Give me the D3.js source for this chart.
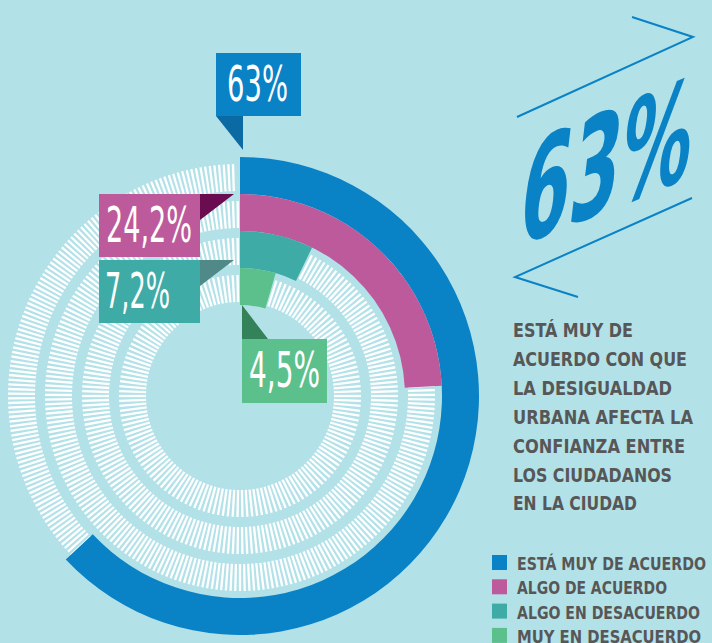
<!DOCTYPE html>
<html>
<head>
<meta charset="utf-8">
<script src="https://cdn.jsdelivr.net/npm/d3@7"></script>
<style>
  html, body { margin: 0; padding: 0; background: #b3e1e8; }
  svg { display: block; }
</style>
</head>
<body>
<svg id="svg_canvas" width="712" height="643"></svg>
<script>
// chart values
var categories = ["ESTÁ MUY DE ACUERDO", "ALGO DE ACUERDO", "ALGO EN DESACUERDO", "MUY EN DESACUERDO"];
var values = [63, 24.2, 7.2, 4.5];
var valueLabels = ["63%", "24,2%", "7,2%", "4,5%"];
var colors = ["#0a82c6", "#bc5a9c", "#3eaba7", "#5cc08c"];
var darkColors = ["#0b6aa4", "#6b0b50", "#4f8a88", "#338259"];
var headline = "63%";
var textLines = ["ESTÁ MUY DE", "ACUERDO CON QUE", "LA DESIGUALDAD", "URBANA AFECTA LA", "CONFIANZA ENTRE", "LOS CIUDADANOS", "EN LA CIUDAD"];

var width = 712, height = 643;
var cx = 240, cy = 396;
var condensed = "'Liberation Sans Narrow', 'DejaVu Sans Condensed', 'Open Sans', sans-serif";
var textGrey = "#575757";

var svg = d3.select("#svg_canvas");

svg.append("rect")
	.attr("width", width)
	.attr("height", height)
	.attr("fill", "#b3e1e8");

// radial band for each ring, angle scale for the percentages
var ring = d3.scaleBand().domain(categories).range([239, 91]);
var angle = d3.scaleLinear().domain([0, 100]).range([0, 2 * Math.PI]);

var chart = svg.append("g").attr("transform", "translate(" + cx + "," + cy + ")");

// hatched background tracks
categories.forEach(function(c){
	var r0 = ring(c) + 3;
	var r1 = ring(c) + 30;
	var mid = (r0 + r1) / 2;
	var n = Math.round(2 * Math.PI * mid / 4.4);
	var ticks = d3.range(n).map(function(i){ return (i + 0.5) / n * 2 * Math.PI; })
		.filter(function(a){ return a < 2 * Math.PI - 0.012; });
	chart.append("g").selectAll("line")
		.data(ticks)
		.enter().append("line")
		.attr("x1", function(a){ return r0 * Math.sin(a); })
		.attr("y1", function(a){ return -r0 * Math.cos(a); })
		.attr("x2", function(a){ return r1 * Math.sin(a); })
		.attr("y2", function(a){ return -r1 * Math.cos(a); })
		.attr("stroke", "#ffffff")
		.attr("stroke-width", 2.3);
});

// value arcs
var arc = d3.arc()
	.innerRadius(function(d){ return ring(d.c); })
	.outerRadius(function(d){ return ring(d.c) + ring.bandwidth(); })
	.startAngle(0)
	.endAngle(function(d){ return angle(d.v); });

chart.selectAll("path.val")
	.data(categories.map(function(c, i){ return {c: c, v: values[i], i: i}; }))
	.enter().append("path")
	.attr("class", "val")
	.attr("d", arc)
	.attr("fill", function(d){ return colors[d.i]; });

// label boxes (layout only)
var boxes = [
	{x: 216, y: 53, w: 85, h: 63, tx: 227, tw: 61, pointer: [[216,116],[243,116],[243,150]]},
	{x: 99, y: 194, w: 101, h: 63, tx: 106, tw: 86, pointer: [[200,194],[234,194],[200,220]]},
	{x: 99, y: 260, w: 101, h: 63, tx: 105, tw: 65, pointer: [[200,260],[234,260],[200,286]]},
	{x: 242, y: 339, w: 85, h: 64, tx: 249, tw: 71, pointer: [[242,305],[242,339],[268,339]]}
];

boxes.forEach(function(b, i){
	svg.append("polygon")
		.attr("points", b.pointer.map(function(p){ return p.join(","); }).join(" "))
		.attr("fill", darkColors[i]);
	svg.append("rect")
		.attr("x", b.x).attr("y", b.y)
		.attr("width", b.w).attr("height", b.h)
		.attr("fill", colors[i]);
	svg.append("text")
		.attr("x", b.tx)
		.attr("y", b.y + 48)
		.attr("textLength", b.tw)
		.attr("lengthAdjust", "spacingAndGlyphs")
		.attr("font-family", condensed)
		.attr("font-size", 49)
		.attr("fill", "#ffffff")
		.text(valueLabels[i]);
});

// big headline with zigzag
svg.append("polyline")
	.attr("points", "632,17 693,37 517,117")
	.attr("fill", "none")
	.attr("stroke", colors[0])
	.attr("stroke-width", 2);
svg.append("polyline")
	.attr("points", "692,198 515,277 578,297")
	.attr("fill", "none")
	.attr("stroke", colors[0])
	.attr("stroke-width", 2);

svg.append("text")
	.attr("transform", "translate(516,247) skewY(-22) skewX(-7)")
	.attr("textLength", 172)
	.attr("lengthAdjust", "spacingAndGlyphs")
	.attr("font-family", condensed)
	.attr("font-weight", "bold")
	.attr("font-size", 136)
	.attr("fill", colors[0])
	.text(headline);

// description
var lineWidths = [120, 174, 159, 180, 172, 159, 124];
svg.append("g").selectAll("text")
	.data(textLines)
	.enter().append("text")
	.attr("x", 513)
	.attr("y", function(d, i){ return 337 + i * 28.9; })
	.attr("textLength", function(d, i){ return lineWidths[i]; })
	.attr("lengthAdjust", "spacingAndGlyphs")
	.attr("font-family", condensed)
	.attr("font-weight", "bold")
	.attr("font-size", 20)
	.attr("fill", textGrey)
	.text(function(d){ return d; });

// legend
var legendWidths = [189, 150, 183, 184];
var legend = svg.append("g").selectAll("g")
	.data(categories)
	.enter().append("g")
	.attr("transform", function(d, i){ return "translate(492," + (555 + i * 24.3) + ")"; });

legend.append("rect")
	.attr("width", 15).attr("height", 15)
	.attr("fill", function(d, i){ return colors[i]; });

legend.append("text")
	.attr("x", 25)
	.attr("y", 15)
	.attr("textLength", function(d, i){ return legendWidths[i]; })
	.attr("lengthAdjust", "spacingAndGlyphs")
	.attr("font-family", condensed)
	.attr("font-weight", "bold")
	.attr("font-size", 18)
	.attr("fill", textGrey)
	.text(function(d){ return d; });
</script>
</body>
</html>
